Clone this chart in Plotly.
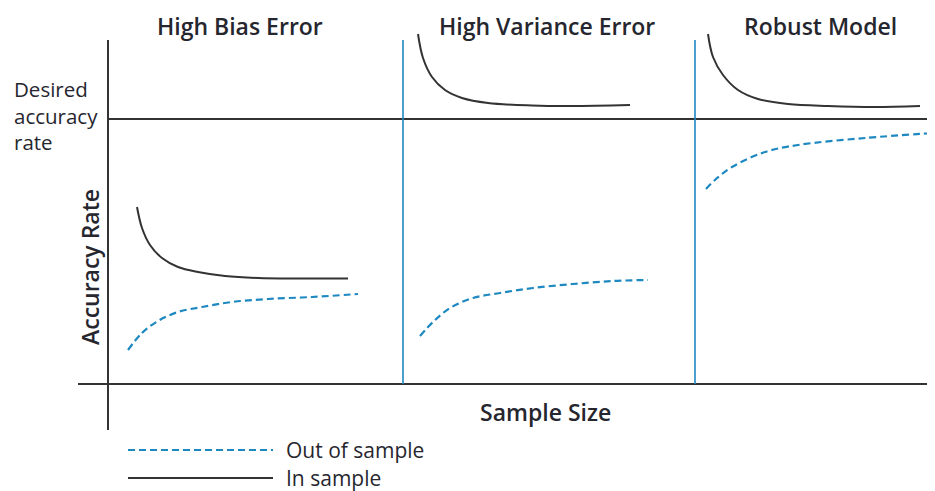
import plotly.graph_objects as go

# panel curves: x = sample-size position, y = accuracy (0 = sample-size axis)
bias_in_x = [137, 142, 150, 162, 178, 198, 225, 258, 300, 348]
bias_in_y = [177, 156, 139, 126, 117, 112, 108, 106, 105.5, 105.5]
bias_out_x = [128, 142, 158, 178, 202, 232, 268, 312, 358]
bias_out_y = [34, 51, 63, 72, 77, 82, 85, 87, 90]

var_in_x = [418, 423, 432, 445, 462, 488, 532, 572, 630]
var_in_y = [350, 326, 307, 294, 286, 281, 278.5, 278, 279]
var_out_x = [420, 433, 450, 473, 500, 533, 573, 613, 648]
var_out_y = [48, 62, 76, 86, 91, 96, 100, 103, 104]

rob_in_x = [708, 713, 723, 738, 758, 788, 828, 875, 920]
rob_in_y = [350, 327, 309, 294, 285, 280, 278, 277, 278]
rob_out_x = [706, 716, 732, 765, 798, 865, 935]
rob_out_y = [195, 205, 217, 232, 239, 246, 251]

panel_titles = ["High Bias Error", "High Variance Error", "Robust Model"]
panel_title_x = [240, 547, 820]
dividers = [403, 695]
desired_rate = 265
y_axis_x = 108

BLUE = "#1e88c0"
DARK = "#333333"
TEXT = "#26262e"
FONT = "Open Sans"

fig = go.Figure()

for xs, ys in [(bias_in_x, bias_in_y), (var_in_x, var_in_y), (rob_in_x, rob_in_y)]:
    fig.add_trace(go.Scatter(x=xs, y=ys, mode="lines",
                             line=dict(color=DARK, width=2, shape="spline", smoothing=1.0)))
for xs, ys in [(bias_out_x, bias_out_y), (var_out_x, var_out_y), (rob_out_x, rob_out_y)]:
    fig.add_trace(go.Scatter(x=xs, y=ys, mode="lines",
                             line=dict(color=BLUE, width=2.2, dash="7px,4px",
                                       shape="spline", smoothing=1.0)))

# hand-drawn legend
fig.add_trace(go.Scatter(x=[128, 273], y=[-66, -66], mode="lines",
                         line=dict(color=BLUE, width=2, dash="7px,4px")))
fig.add_trace(go.Scatter(x=[128, 273], y=[-94, -94], mode="lines",
                         line=dict(color=DARK, width=2)))

# axes and guide lines
fig.add_shape(type="line", x0=y_axis_x, x1=y_axis_x, y0=-46, y1=344,
              line=dict(color=DARK, width=2))
fig.add_shape(type="line", x0=78, x1=935, y0=0, y1=0, line=dict(color=DARK, width=2))
fig.add_shape(type="line", x0=y_axis_x, x1=935, y0=desired_rate, y1=desired_rate,
              line=dict(color=DARK, width=2))
for d in dividers:
    fig.add_shape(type="line", x0=d, x1=d, y0=0, y1=344, line=dict(color=BLUE, width=1.6))

for t, tx in zip(panel_titles, panel_title_x):
    fig.add_annotation(x=tx, y=358, text=t, showarrow=False,
                       font=dict(family=FONT, size=23, color=TEXT, weight=600))

fig.add_annotation(x=12, y=269, text="Desired<br>accuracy<br>rate", showarrow=False,
                   xanchor="left", align="left",
                   font=dict(family=FONT, size=20.5, color=TEXT))
fig.add_annotation(x=90, y=117, text="Accuracy Rate", showarrow=False, textangle=-90,
                   font=dict(family=FONT, size=23, color=TEXT, weight=600))
fig.add_annotation(x=545, y=-28, text="Sample Size", showarrow=False,
                   font=dict(family=FONT, size=23, color=TEXT, weight=600))
fig.add_annotation(x=284, y=-66, text="Out of sample", showarrow=False, xanchor="left",
                   font=dict(family=FONT, size=21, color=TEXT))
fig.add_annotation(x=284, y=-94, text="In sample", showarrow=False, xanchor="left",
                   font=dict(family=FONT, size=21, color=TEXT))

# page body has an 8px margin, so the figure starts at (8, 8)
fig.update_layout(
    width=927, height=483,
    margin=dict(l=0, r=0, t=0, b=0),
    paper_bgcolor="white", plot_bgcolor="white",
    showlegend=False,
    xaxis=dict(range=[8, 935], visible=False, fixedrange=True),
    yaxis=dict(range=[-107, 376], visible=False, fixedrange=True),
)

fig.write_html("out.html")
